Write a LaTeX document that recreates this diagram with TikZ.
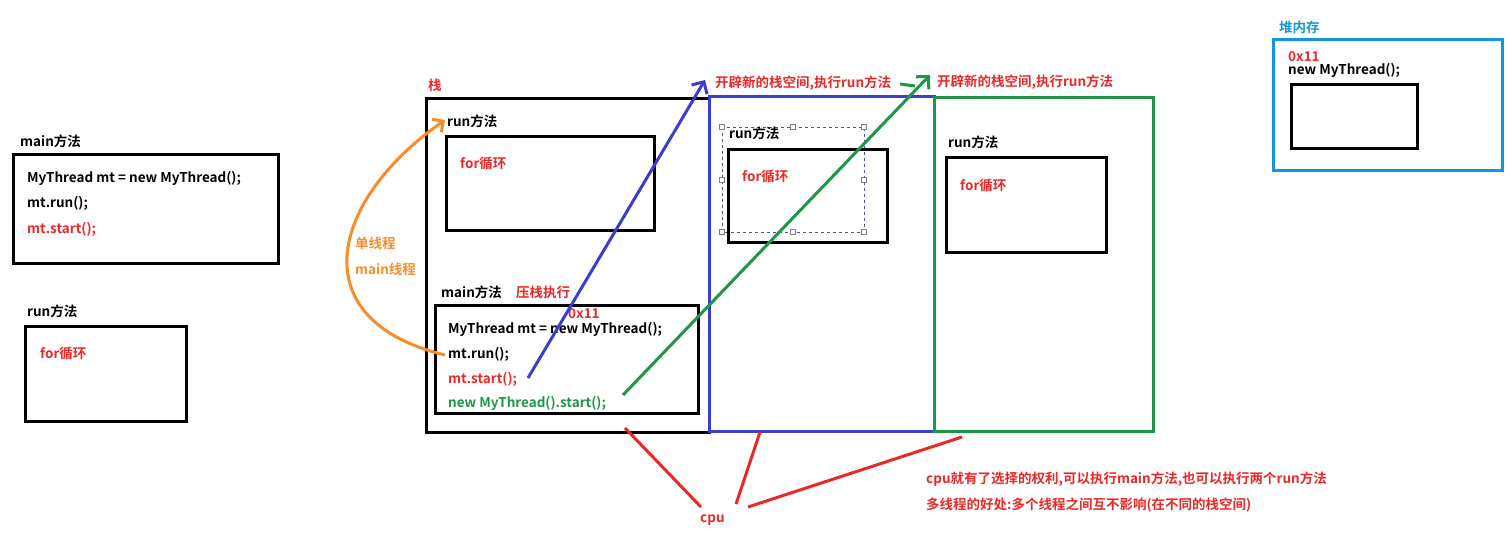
\documentclass[tikz,border=0pt]{standalone}
\usepackage{fontspec}
\setmainfont{Noto Sans CJK SC Bold}
\usetikzlibrary{arrows.meta}
\definecolor{tred}{RGB}{235,40,40}
\definecolor{tblue}{RGB}{60,60,205}
\definecolor{tgreen}{RGB}{30,150,70}
\definecolor{torange}{RGB}{250,140,40}
\definecolor{tcyan}{RGB}{20,150,220}
\begin{document}
\begin{tikzpicture}[x=1pt,y=-1pt,
  txt/.style={anchor=west,inner sep=0pt,font=\fontsize{13.5}{15}\selectfont},
  box/.style={draw=black,line width=3pt}]
  \useasboundingbox (0,0) rectangle (1510,534);

  % left: main and run
  \node [txt] (mainlbl) at (20,141) {main方法};
  \draw [box] (13,155) rectangle (278,264);
  \node [txt] (l1) at (27,178) {MyThread mt = new MyThread();};
  \node [txt] (l2) at (27,203) {mt.run();};
  \node [txt,text=tred] (l3) at (27,229) {mt.start();};
  \node [txt] (runlbl) at (27,311) {run方法};
  \draw [box] (25,327) rectangle (186,421);
  \node [txt,text=tred] (forl) at (40,353) {for循环};

  % stack
  \node [txt,text=tred] (stack) at (428,85) {栈};
  \draw [box] (426,99) rectangle (709,432);
  \node [txt] (srun) at (447,121) {run方法};
  \draw [box] (446,137) rectangle (654,231);
  \node [txt,text=tred] (sfor) at (460,163) {for循环};
  \node [txt] (smain) at (441,292) {main方法};
  \node [txt,text=tred] (push) at (516,292) {压栈执行};
  \draw [box] (435,306) rectangle (698,414);
  \node [txt] (s1) at (448,329) {MyThread mt = new MyThread();};
  \node [txt] (s2) at (448,354) {mt.run();};
  \node [txt,text=tred] (s3) at (448,379) {mt.start();};
  \node [txt,text=tgreen] (s4) at (448,403) {new MyThread().start();};
  \node [txt,text=tred] (addr) at (568,314) {0x11};

  % orange: single thread
  \coordinate (o1) at (445,355);
  \coordinate (o2) at (445,120);
  \draw [torange,line width=3pt,-{Straight Barb[length=8pt]}] (o1) .. controls (300,320) and (330,200) .. (o2);
  \node [txt,text=torange] (single) at (355,243) {单线程};
  \node [txt,text=torange] (mainthr) at (355,269) {main线程};

  % blue stack
  \draw [tblue,line width=3pt] (709,97) rectangle (934,431);
  \coordinate (b1) at (528,378);
  \coordinate (b2) at (705,80);
  \draw [tblue,line width=3pt,-{Straight Barb[length=9pt]}] (b1) -- (b2);
  \node [txt,text=tred] (new1) at (715,83) {开辟新的栈空间,执行run方法};
  \draw [gray!60!blue,dashed,thin] (722,127) rectangle (864,232);
  \foreach \p in {(722,127),(793,127),(864,127),(722,180),(864,180),(722,232),(793,232),(864,232)}
    \draw [gray,fill=white] \p ++(-2.5,-2.5) rectangle ++(5,5);
  \node [txt] (brun) at (729,133) {run方法};
  \draw [box] (728,150) rectangle (887,243);
  \node [txt,text=tred] (bfor) at (742,176) {for循环};

  % green stack
  \draw [tgreen,line width=3pt] (934,98) rectangle (1153,431);
  \coordinate (g1) at (623,395);
  \coordinate (g2) at (930,75);
  \draw [tgreen,line width=3pt,-{Straight Barb[length=9pt]}] (g1) -- (g2);
  \draw [tgreen,line width=3pt] (900,84) -- (915,86);
  \node [txt,text=tred] (new2) at (937,82) {开辟新的栈空间,执行run方法};
  \node [txt] (grun) at (948,142) {run方法};
  \draw [box] (946,158) rectangle (1106,253);
  \node [txt,text=tred] (gfor) at (960,185) {for循环};

  % heap
  \node [txt,text=tcyan] (heap) at (1279,27) {堆内存};
  \draw [tcyan,line width=3pt] (1273,40) rectangle (1502,171);
  \node [txt,text=tred] (haddr) at (1288,57) {0x11};
  \node [txt] (hobj) at (1288,70) {new MyThread();};
  \draw [box] (1291,85) rectangle (1417,149);

  % cpu
  \node [txt,text=tred] (cpu) at (700,520) {cpu};
  \coordinate (c1) at (625,428);
  \coordinate (c2) at (760,432);
  \coordinate (c3) at (962,437);
  \draw [tred,line width=3pt] (701,507) -- (c1);
  \draw [tred,line width=3pt] (736,504) -- (c2);
  \draw [tred,line width=3pt] (748,507) -- (c3);
  \node [txt,text=tred] (note1) at (926,479) {cpu就有了选择的权利,可以执行main方法,也可以执行两个run方法};
  \node [txt,text=tred] (note2) at (926,505) {多线程的好处:多个线程之间互不影响(在不同的栈空间)};
\end{tikzpicture}
\end{document}
